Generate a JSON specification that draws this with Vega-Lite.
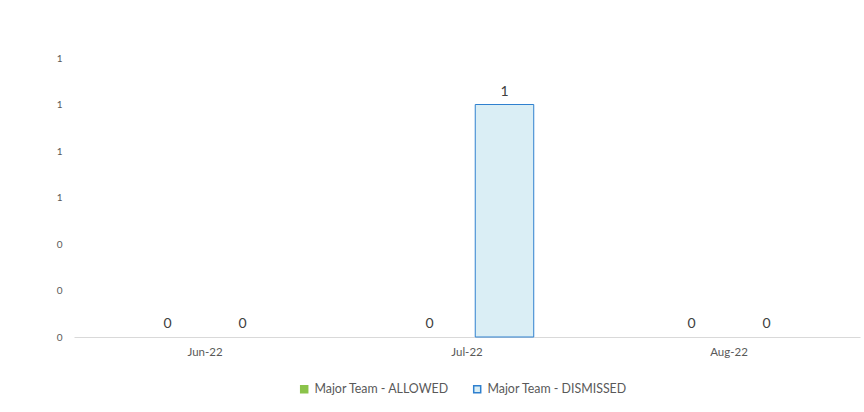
{
  "$schema": "https://vega.github.io/schema/vega-lite/v6.json",
  "autosize": "none",
  "width": 786,
  "height": 279,
  "padding": {"left": 74, "top": 58, "right": 4, "bottom": 75},
  "background": "white",
  "config": {
    "view": {"stroke": null},
    "font": "Lato",
    "axis": {"grid": false, "ticks": false, "labelColor": "#595959", "labelFont": "Lato"},
    "legend": {"labelFont": "Lato"}
  },
  "data": {
    "values": [
      {"month": "Jun-22", "series": "Major Team - ALLOWED", "value": 0},
      {"month": "Jun-22", "series": "Major Team - DISMISSED", "value": 0},
      {"month": "Jul-22", "series": "Major Team - ALLOWED", "value": 0},
      {"month": "Jul-22", "series": "Major Team - DISMISSED", "value": 1},
      {"month": "Aug-22", "series": "Major Team - ALLOWED", "value": 0},
      {"month": "Aug-22", "series": "Major Team - DISMISSED", "value": 0}
    ]
  },
  "encoding": {
    "x": {
      "field": "month", "type": "nominal", "sort": ["Jun-22", "Jul-22", "Aug-22"],
      "scale": {"paddingInner": 0, "paddingOuter": 0},
      "axis": {"title": null, "labelAngle": 0, "labelFontSize": 11.5, "labelPadding": 9, "domainColor": "#d9d9d9", "domainWidth": 1}
    },
    "xOffset": {
      "field": "series", "type": "nominal",
      "scale": {"paddingInner": 0.22, "paddingOuter": 0.857}
    },
    "y": {
      "field": "value", "type": "quantitative",
      "scale": {"domain": [0, 1.2], "nice": false},
      "axis": {"title": null, "domain": false, "values": [0, 0.2, 0.4, 0.6, 0.8, 1.0, 1.2], "format": ".0f", "labelFontSize": 10, "labelPadding": 12}
    }
  },
  "layer": [
    {
      "mark": {"type": "bar", "strokeWidth": 1},
      "encoding": {
        "color": {
          "field": "series", "type": "nominal",
          "scale": {"domain": ["Major Team - ALLOWED", "Major Team - DISMISSED"], "range": ["#8BC34A", "#DAEEF5"]},
          "legend": {
            "title": null, "orient": "none", "direction": "horizontal",
            "legendX": 224, "legendY": 325, "symbolType": "square", "symbolSize": 49,
            "labelFontSize": 12.4, "labelColor": "#595959", "columnPadding": 20, "labelOffset": 4
          }
        },
        "stroke": {
          "field": "series", "type": "nominal",
          "scale": {"domain": ["Major Team - ALLOWED", "Major Team - DISMISSED"], "range": ["#8BC34A", "#2F80CF"]},
          "legend": {
            "title": null, "orient": "none", "direction": "horizontal",
            "legendX": 224, "legendY": 325, "symbolType": "square", "symbolSize": 49,
            "labelFontSize": 12.4, "labelColor": "#595959", "columnPadding": 20, "labelOffset": 4
          }
        },
        "strokeOpacity": {"condition": {"test": "datum.value > 0", "value": 1}, "value": 0}
      }
    },
    {
      "mark": {"type": "text", "baseline": "bottom", "dy": -6, "fontSize": 14, "color": "#404040"},
      "encoding": {
        "text": {"field": "value", "type": "quantitative", "format": ".0f"}
      }
    }
  ]
}
